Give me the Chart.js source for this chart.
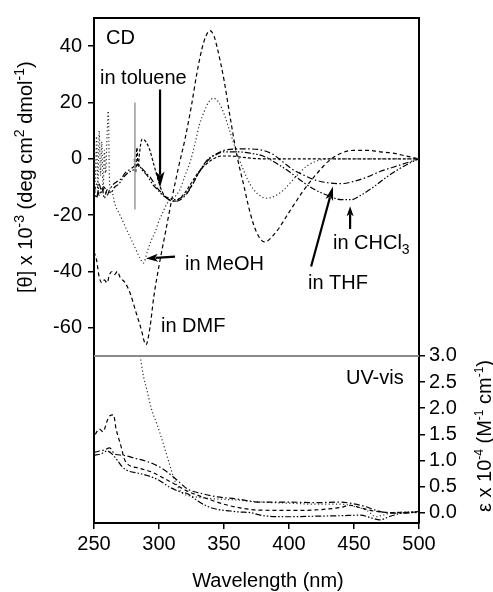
<!DOCTYPE html>
<html>
<head>
<meta charset="utf-8">
<script src="https://cdn.jsdelivr.net/npm/chart.js@4"></script>
<style>
  body { margin: 0; background: #fff; }
  canvas { display: block; }
</style>
</head>
<body>
<canvas id="chart" width="493" height="592"></canvas>
<script>
// axis ticks / panel limits
const xTicks = [250, 300, 350, 400, 450, 500];
const cdTicks = [-60, -40, -20, 0, 20, 40];
const uvTicks = [0, 0.5, 1, 1.5, 2, 2.5, 3];
const cdRange = [-70, 50];
const uvRange = [-0.2, 3.0];

// CD spectra, [theta] x 10^-3
const wlCdDMF = [250,252,254,256,258,260,262,264,266,268,270,274,278,282,286,290,293,296,300,305,310,315,320,325,329,333,336,339,342,345,350,355,360,365,370,375,381,390,400,410,420,430,440,450,460,470,480,490,500];
const cdDMF = [-33,-36,-42,-44,-43,-44,-41,-40,-41,-40,-42,-44,-48,-54,-60,-66,-60,-49,-38,-26,-14,-3,7,19,30,39,43.5,45.5,44,39,28,14,1,-9,-19,-26,-29.5,-26,-19,-12,-6,-1,2,3,3,2.5,2,1,0];

const wlCdMeOH = [250,251,252,253,254,255,256,257,258,259,260,261,262,264,266,270,274,278,282,285,288,291,294,297,300,303,306,311,316,320,324,328,331,335,338,342,346,350,355,360,365,370,376,383,390,396,402,408,414,420,430,445,460,480,500];
const cdMeOH = [5,-8,8,-10,10,-6,6,-12,3,-5,8,17,-9,-12,-16,-20,-24,-28,-32,-35,-37,-33,-29,-26,-22,-19,-16,-14,-11,-6,-1,6,12,17,20,21.5,20,16,9,2,-4,-9,-12.5,-14,-13,-11,-8,-5,-2.5,-1,0,0,0,0,0];

const wlCdTHF = [250,252,254,256,258,260,262,265,268,271,274,277,280,283,286,290,294,298,302,306,310,314,318,322,326,330,335,340,345,350,360,370,380,388,395,402,410,420,430,440,450,460,470,480,490,500];
const cdTHF = [-10,-14,-9,-12,-10,-13,-11,-9,-8,-7,-5,-4,-3,-2,-3,-5,-7,-10,-12,-14,-15,-15,-14,-12,-9,-5.5,-2,0.5,2,3,3.5,3.5,3,1.5,-1,-3.5,-5.5,-7.5,-8.5,-8.8,-8,-6.5,-4.5,-3,-1.5,0];

const wlCdCHCl3 = [250,252,254,256,258,260,263,266,269,272,276,280,284,287,291,295,299,303,308,313,318,323,328,333,338,344,350,360,370,380,390,400,410,420,430,440,448,455,465,475,485,495,500];
const cdCHCl3 = [-12,-9,-13,-10,-14,-11,-12,-10,-9,-7,-5,-4,-2,-4,-6,-9,-11,-13,-14,-14.5,-13.5,-11,-7,-3,0,1.5,2.5,2.5,2,1,-1.5,-4.5,-8,-11,-13,-14.5,-14.5,-13,-10,-6.5,-3.5,-1,0];

const wlCdToluene = [281,282,283,284,285,287,290,293,296,299,301,304,308,312,316,320,325,330,336,342,348,355,365,380,400,420,440,460,480,500];
const cdToluene = [0,-5,4,-3,2,7,6,3,-2,-7,-10,-13,-14.5,-15,-14,-12,-8.5,-5,-2,0,1,1,0.5,0,0,0,0,0,0,0];

// noise spike (grey) in the toluene trace
const wlSpike = [281.5, 281.5];
const cdSpike = [20, -18];

// UV-vis spectra, epsilon x 10^-4
const wlUvDMF = [251,254,257,260,262,265,267,269,271,273,275,285,295,305,311,321,330,340,350,360,375,400,420,440,447,455,465,480,500];
const uvDMF = [1.5,1.6,1.55,1.75,1.85,1.87,1.6,1.42,1.25,1.05,0.95,0.85,0.77,0.64,0.56,0.42,0.33,0.24,0.16,0.1,0.05,0.04,0.05,0.1,0.14,0.09,0.03,0.0,0.01];

const wlUvTHF = [250,254,258,262,266,272,280,295,305,314,322,332,345,360,377,400,420,440,447,458,466,472,480,490,500];
const uvTHF = [1.15,1.18,1.2,1.24,1.12,1.1,1.05,0.94,0.8,0.62,0.45,0.37,0.3,0.26,0.2,0.2,0.19,0.2,0.18,0.12,0.05,0.01,-0.01,0.0,0.02];

const wlUvCHCl3 = [250,255,260,264,268,272,276,285,291,300,308,316,322,330,337,345,355,362,370,380,400,420,440,455,463,470,477,485,500];
const uvCHCl3 = [1.1,1.12,1.18,1.12,1.0,0.87,0.8,0.75,0.71,0.62,0.49,0.4,0.36,0.22,0.12,0.06,0.03,0.01,0.0,-0.06,-0.08,-0.07,-0.06,-0.05,-0.1,-0.14,-0.08,-0.02,0.0];

const wlUvMeOH = [285.5,288,291,294,298.5,301,306,309,312,315,318,322,328,335,345,360,380,400,420,440,450,460,467,472,480,490,500];
const uvMeOH = [3.0,2.62,2.32,2.0,1.69,1.5,1.1,0.85,0.62,0.47,0.37,0.33,0.3,0.28,0.26,0.24,0.2,0.18,0.16,0.16,0.12,0.04,-0.08,-0.05,0.0,0.01,0.02];

const FONT = '"Liberation Sans", Arial, Helvetica, sans-serif';

// top panel takes 342 of the 511 px plot height
const split = 342 / 511;
const cdSpan = cdRange[1] - cdRange[0];
const uvSpan = uvRange[1] - uvRange[0];
const cdAxisMin = cdRange[0] - cdSpan * (1 - split) / split;
const uvAxisMax = uvRange[1] + uvSpan * split / (1 - split);

function pts(xs, ys) {
    return xs.map((x, i) => ({ x: x, y: ys[i] }));
}

function line(data, axis, dash, color, width) {
    return {
        data: data,
        yAxisID: axis,
        borderColor: color || '#000',
        borderWidth: width || 1.2,
        borderDash: dash,
        pointRadius: 0,
        fill: false,
        cubicInterpolationMode: 'monotone'
    };
}

// text with super/subscripts, optionally rotated
function richWidth(ctx, parts, supSize) {
    let w = 0;
    parts.forEach(([t, k]) => {
        ctx.font = (k ? (supSize || 14) + 'px ' : '20px ') + FONT;
        w += ctx.measureText(t).width;
    });
    return w;
}

function drawRich(ctx, parts, x, y, angle, supSize) {
    ctx.save();
    ctx.translate(x, y);
    ctx.rotate(angle || 0);
    ctx.fillStyle = '#000';
    ctx.textBaseline = 'alphabetic';
    ctx.textAlign = 'left';
    let cx = 0;
    parts.forEach(([t, k]) => {
        ctx.font = (k ? (supSize || 14) + 'px ' : '20px ') + FONT;
        const dy = k === 'sup' ? -8 : (k === 'sub' ? 5 : 0);
        ctx.fillText(t, cx, dy);
        cx += ctx.measureText(t).width;
    });
    ctx.restore();
}

function drawArrow(ctx, x1, y1, x2, y2, headLen, headW) {
    const a = Math.atan2(y2 - y1, x2 - x1);
    ctx.save();
    ctx.strokeStyle = '#000';
    ctx.fillStyle = '#000';
    ctx.lineWidth = 2.2;
    ctx.setLineDash([]);
    ctx.beginPath();
    ctx.moveTo(x1, y1);
    ctx.lineTo(x2 - Math.cos(a) * headLen * 0.8, y2 - Math.sin(a) * headLen * 0.8);
    ctx.stroke();
    ctx.translate(x2, y2);
    ctx.rotate(a);
    ctx.beginPath();
    ctx.moveTo(0, 0);
    ctx.lineTo(-headLen, -headW / 2);
    ctx.lineTo(-headLen * 0.75, 0);
    ctx.lineTo(-headLen, headW / 2);
    ctx.closePath();
    ctx.fill();
    ctx.restore();
}

// labels and arrows, placed in data units (wavelength, CD value)
const labels = [
    { parts: [['CD']], at: [259.2, 40.6] },
    { parts: [['in toluene']], at: [254.6, 26.6] },
    { parts: [['in MeOH']], at: [320, -39.6] },
    { parts: [['in DMF']], at: [301.5, -61.6] },
    { parts: [['in CHCl'], ['3', 'sub']], at: [433.8, -31.9] },
    { parts: [['in THF']], at: [414.6, -46.2] }
];
const arrows = [
    { from: [300.8, 24.6], to: [300.8, -10.2], len: 16, w: 9 },
    { from: [312.3, -34.7], to: [290, -35.4], len: 12, w: 8 },
    { from: [447, -24.9], to: [447, -16.8], len: 10, w: 7 },
    { from: [417, -38.2], to: [433.8, -9.8], len: 14, w: 8 }
];

const decor = {
    id: 'decor',
    afterDraw(chart) {
        const ctx = chart.ctx;
        const a = chart.chartArea;
        const x = chart.scales.x;
        const yc = chart.scales.yCD;
        const yu = chart.scales.yUV;

        // frame top
        ctx.save();
        ctx.strokeStyle = '#000';
        ctx.lineWidth = 2;
        ctx.beginPath();
        ctx.moveTo(a.left - 1, a.top);
        ctx.lineTo(a.right + 1, a.top);
        ctx.stroke();
        // panel divider
        const yd = yc.getPixelForValue(cdRange[0]);
        ctx.strokeStyle = '#8a8a8a';
        ctx.beginPath();
        ctx.moveTo(a.left, yd);
        ctx.lineTo(a.right, yd);
        ctx.stroke();
        ctx.restore();

        labels.forEach(l => {
            drawRich(ctx, l.parts, x.getPixelForValue(l.at[0]), yc.getPixelForValue(l.at[1]));
        });
        drawRich(ctx, [['UV-vis']], x.getPixelForValue(443.8), yu.getPixelForValue(2.46));

        arrows.forEach(r => {
            drawArrow(ctx,
                x.getPixelForValue(r.from[0]), yc.getPixelForValue(r.from[1]),
                x.getPixelForValue(r.to[0]), yc.getPixelForValue(r.to[1]),
                r.len, r.w);
        });

        // axis titles
        const leftTitle = [['[\u03b8] x 10'], ['-3', 'sup'], [' (deg cm'], ['2', 'sup'], [' dmol'], ['-1', 'sup'], [')']];
        drawRich(ctx, leftTitle, 32, 293, -Math.PI / 2);

        const rightTitle = [['\u03b5 x 10'], ['-4', 'sup'], [' (M'], ['-1', 'sup'], [' cm'], ['-1', 'sup'], [')']];
        const rw = richWidth(ctx, rightTitle, 12);
        drawRich(ctx, rightTitle, 491, 436 + rw / 2, -Math.PI / 2, 12);

        ctx.save();
        ctx.font = '20px ' + FONT;
        ctx.fillStyle = '#000';
        ctx.textAlign = 'center';
        ctx.textBaseline = 'alphabetic';
        ctx.fillText('Wavelength (nm)', 268, 587);
        ctx.restore();
    }
};

const tickFont = { family: FONT, size: 20 };

new Chart(document.getElementById('chart'), {
    type: 'line',
    data: {
        datasets: [
            line(pts(wlSpike, cdSpike), 'yCD', [], '#9a9a9a', 1.5),
            line(pts(wlCdDMF, cdDMF), 'yCD', [4, 3]),
            line(pts(wlCdMeOH, cdMeOH), 'yCD', [1.2, 2.4], '#333'),
            line(pts(wlCdTHF, cdTHF), 'yCD', [6, 2.5, 1.5, 2.5]),
            line(pts(wlCdCHCl3, cdCHCl3), 'yCD', [6, 2, 1.5, 2, 1.5, 2]),
            line(pts(wlCdToluene, cdToluene), 'yCD', [3, 2]),
            line(pts(wlUvDMF, uvDMF), 'yUV', [4, 3]),
            line(pts(wlUvTHF, uvTHF), 'yUV', [6, 2.5, 1.5, 2.5]),
            line(pts(wlUvCHCl3, uvCHCl3), 'yUV', [6, 2, 1.5, 2, 1.5, 2]),
            line(pts(wlUvMeOH, uvMeOH), 'yUV', [1.2, 2.4], '#333')
        ]
    },
    options: {
        responsive: false,
        animation: false,
        layout: { padding: { top: 12, left: 0, right: 0, bottom: 0 } },
        plugins: { legend: { display: false }, tooltip: { enabled: false } },
        scales: {
            x: {
                type: 'linear',
                min: 250,
                max: 500,
                afterBuildTicks: s => { s.ticks = xTicks.map(v => ({ value: v })); },
                afterFit: s => { s.height = 69; },
                ticks: { font: tickFont, color: '#000', padding: 3, maxRotation: 0 },
                grid: { display: true, drawOnChartArea: false, drawTicks: true, tickLength: 6, color: '#000', lineWidth: 1.5 },
                border: { display: true, color: '#000', width: 2 }
            },
            yCD: {
                type: 'linear',
                position: 'left',
                min: cdAxisMin,
                max: cdRange[1],
                afterBuildTicks: s => { s.ticks = cdTicks.map(v => ({ value: v })); },
                afterFit: s => { s.width = 94; },
                ticks: { font: tickFont, color: '#000', padding: 6 },
                grid: { display: true, drawOnChartArea: false, drawTicks: true, tickLength: 6, color: '#000', lineWidth: 1.5 },
                border: { display: true, color: '#000', width: 2 }
            },
            yUV: {
                type: 'linear',
                position: 'right',
                min: uvRange[0],
                max: uvAxisMax,
                afterBuildTicks: s => { s.ticks = uvTicks.map(v => ({ value: v })); },
                afterFit: s => { s.width = 74; },
                ticks: { font: tickFont, color: '#000', padding: 4, callback: v => v.toFixed(1) },
                grid: { display: true, drawOnChartArea: false, drawTicks: true, tickLength: 6, color: '#000', lineWidth: 1.5 },
                border: { display: true, color: '#000', width: 2 }
            }
        }
    },
    plugins: [decor]
});
</script>
</body>
</html>
